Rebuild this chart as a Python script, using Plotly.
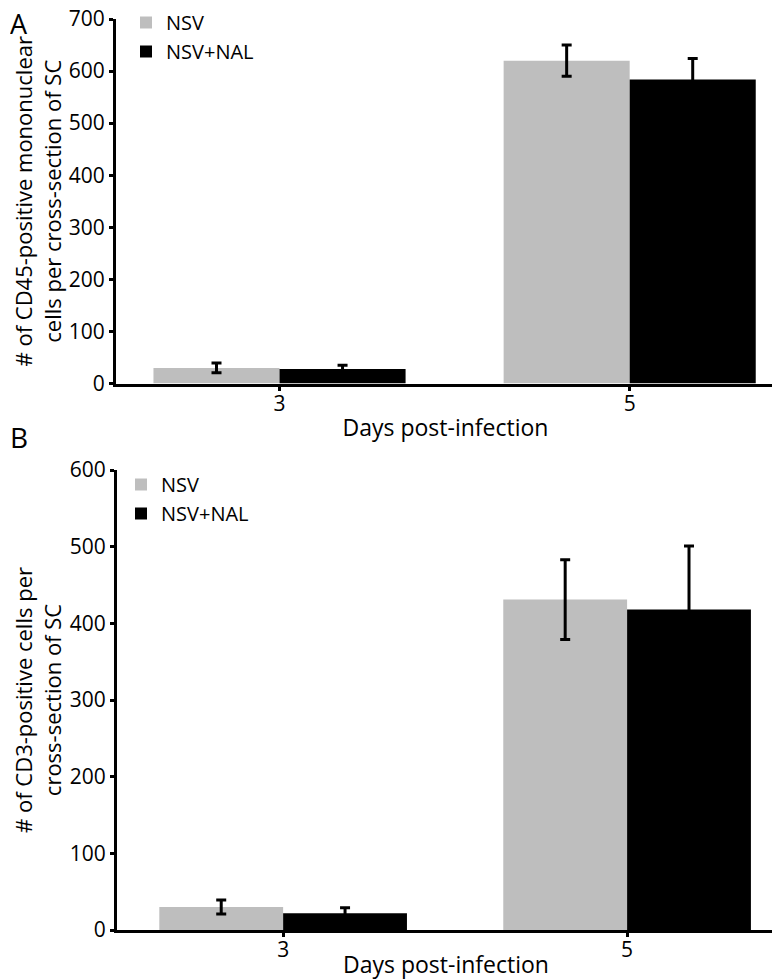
import plotly.graph_objects as go

days = ["3", "5"]
series_names = ["NSV", "NSV+NAL"]

a_nsv = [30, 620]
a_nsv_err = [9.5, 30]
a_nal = [28, 584]
a_nal_err = [7, 40]

b_nsv = [30, 431]
b_nsv_err = [9, 52]
b_nal = [22, 418]
b_nal_err = [7, 83]

a_yticks = [0, 100, 200, 300, 400, 500, 600, 700]
b_yticks = [0, 100, 200, 300, 400, 500, 600]

GRAY = "#bebebe"
BLACK = "#000000"
FONT = "Open Sans"
W = 0.36

# page has an 8px body margin; figure is sized to fit the 780x980 window
FW, FH = 772, 972
OFF = 8

def px(p):
    return (p - OFF) / FW

def py(p):
    return 1 - (p - OFF) / FH

fig = go.Figure()

def add_pair(xa, ya, nsv, nsv_err, nal, nal_err, legend):
    fig.add_trace(go.Bar(
        x=days, y=nsv, name=series_names[0], marker=dict(color=GRAY, line=dict(width=0)),
        width=W, offset=-W, xaxis=xa, yaxis=ya, legend=legend,
        error_y=dict(type="data", array=nsv_err, color="black", thickness=3, width=5),
    ))
    fig.add_trace(go.Bar(
        x=days, y=nal, name=series_names[1], marker=dict(color=BLACK, line=dict(width=0)),
        width=W, offset=0, xaxis=xa, yaxis=ya, legend=legend,
        error_y=dict(type="data", array=nal_err, color="black", thickness=3, width=5),
    ))

add_pair("x", "y", a_nsv, a_nsv_err, a_nal, a_nal_err, "legend")
add_pair("x2", "y2", b_nsv, b_nsv_err, b_nal, b_nal_err, "legend2")

axis_common = dict(showline=True, linecolor="black", linewidth=3, showgrid=False,
                   zeroline=False, ticks="outside", tickcolor="black", tickwidth=3,
                   ticklen=4, automargin=False, ticklabeloverflow="allow",
                   tickfont=dict(family=FONT, size=21, color="black"))

xtitle_font = dict(family=FONT, size=23, color="black")
ytitle_font = dict(family=FONT, size=22, color="black")

fig.update_layout(
    width=FW, height=FH,
    margin=dict(l=0, r=0, t=0, b=0, autoexpand=False),
    paper_bgcolor="white", plot_bgcolor="white",
    barmode="overlay",
    font=dict(family=FONT, size=20, color="black"),
    xaxis=dict(domain=[px(116), px(775)], anchor="y", type="category",
               range=[-0.467, 1.415], ticklabelstandoff=-5,
               title=dict(text="Days post-infection", font=xtitle_font, standoff=5),
               **axis_common),
    yaxis=dict(domain=[py(383.5), py(19)], anchor="x", range=[0, 700],
               tickvals=a_yticks,
               title=dict(text="# of CD45-positive mononuclear<br>cells per cross-section of SC",
                          font=ytitle_font, standoff=8),
               **axis_common),
    xaxis2=dict(domain=[px(117), px(775)], anchor="y2", type="category",
                range=[-0.483, 1.430], ticklabelstandoff=-5,
                title=dict(text="Days post-infection", font=xtitle_font, standoff=5),
                **axis_common),
    yaxis2=dict(domain=[py(930), py(470)], anchor="x2", range=[0, 600],
                tickvals=b_yticks,
                title=dict(text="# of CD3-positive cells per<br>cross-section of SC",
                           font=ytitle_font, standoff=8),
                **axis_common),
    legend=dict(x=px(126), y=py(3), xanchor="left", yanchor="top",
                bgcolor="rgba(0,0,0,0)", itemwidth=30, tracegroupgap=0,
                font=dict(family=FONT, size=20)),
    legend2=dict(x=px(121), y=py(465), xanchor="left", yanchor="top",
                 bgcolor="rgba(0,0,0,0)", itemwidth=30, tracegroupgap=0,
                 font=dict(family=FONT, size=20)),
    annotations=[
        dict(text="A", x=0, y=py(8), xref="paper", yref="paper", xanchor="left", yanchor="top",
             height=26, valign="middle",
             showarrow=False, font=dict(family=FONT, size=27, color="black")),
        dict(text="B", x=0, y=py(437), xref="paper", yref="paper", xanchor="left", yanchor="middle",
             showarrow=False, font=dict(family=FONT, size=28, color="black")),
    ],
)

fig.write_html("out.html")
